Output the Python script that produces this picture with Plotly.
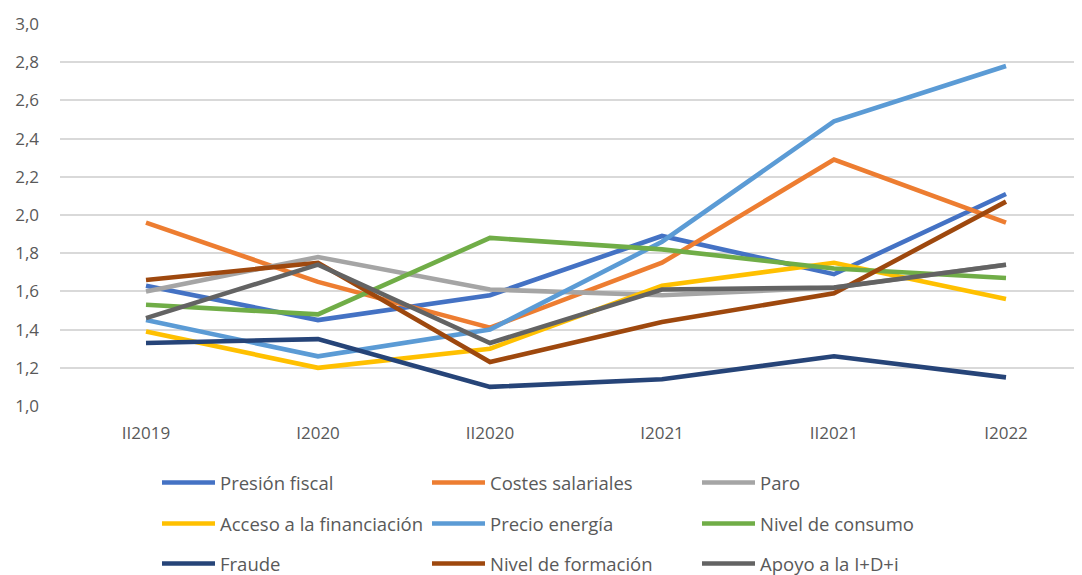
import plotly.graph_objects as go

categories = ["II2019", "I2020", "II2020", "I2021", "II2021", "I2022"]

presion_fiscal = [1.63, 1.45, 1.58, 1.89, 1.69, 2.11]
costes_salariales = [1.96, 1.65, 1.41, 1.75, 2.29, 1.96]
paro = [1.60, 1.78, 1.61, 1.58, 1.62, 1.74]
acceso_financiacion = [1.39, 1.20, 1.30, 1.63, 1.75, 1.56]
precio_energia = [1.45, 1.26, 1.40, 1.86, 2.49, 2.78]
nivel_consumo = [1.53, 1.48, 1.88, 1.82, 1.72, 1.67]
fraude = [1.33, 1.35, 1.10, 1.14, 1.26, 1.15]
nivel_formacion = [1.66, 1.75, 1.23, 1.44, 1.59, 2.07]
apoyo_idi = [1.46, 1.74, 1.33, 1.61, 1.62, 1.74]

series = [
    ("Presión fiscal", presion_fiscal, "#4472C4", "legend"),
    ("Costes salariales", costes_salariales, "#ED7D31", "legend"),
    ("Paro", paro, "#A5A5A5", "legend"),
    ("Acceso a la financiación", acceso_financiacion, "#FFC000", "legend2"),
    ("Precio energía", precio_energia, "#5B9BD5", "legend2"),
    ("Nivel de consumo", nivel_consumo, "#70AD47", "legend2"),
    ("Fraude", fraude, "#264478", "legend3"),
    ("Nivel de formación", nivel_formacion, "#9E480E", "legend3"),
    ("Apoyo a la I+D+i", apoyo_idi, "#636363", "legend3"),
]

FONT = "Open Sans"
TXT = "#595959"
TICK_FS = 17
LEG_FS = 18.5

# page has an 8px body margin: the figure is sized and placed to compensate
W, H = 1074, 567

fig = go.Figure()
for name, vals, color, lg in series:
    fig.add_trace(go.Scatter(
        x=list(range(len(categories))), y=vals, name=name, mode="lines",
        line=dict(color=color, width=4.6), legend=lg,
    ))

def leg(page_y):
    return dict(
        orientation="h", xref="container", yref="container",
        x=149 / W, xanchor="left", y=1 - (page_y - 8) / H, yanchor="middle",
        entrywidth=202, entrywidthmode="pixels",
        font=dict(family=FONT, size=LEG_FS, color=TXT),
        bgcolor="rgba(0,0,0,0)", itemwidth=53, traceorder="normal",
    )

fig.update_layout(
    width=W, height=H,
    margin=dict(l=52, r=0, t=16, b=169),
    plot_bgcolor="white", paper_bgcolor="white",
    separators=", ",
    font=dict(family=FONT, size=TICK_FS, color=TXT),
    showlegend=True,
    legend=leg(483),
    legend2=leg(524),
    legend3=leg(564),
    xaxis=dict(
        tickmode="array", tickvals=list(range(len(categories))), ticktext=categories,
        range=[-0.5, -0.5 + 1022 / 172], showgrid=False, zeroline=False,
        showline=False, ticks="", ticklabelstandoff=15,
        tickfont=dict(family=FONT, size=TICK_FS, color=TXT),
    ),
    yaxis=dict(
        range=[1.0, 3.0], dtick=0.2, tick0=1.0, tickformat=".1f",
        showgrid=True, gridcolor="#D9D9D9", gridwidth=1.5, zeroline=False,
        showline=False, ticks="", ticklabelstandoff=20,
        tickfont=dict(family=FONT, size=TICK_FS, color=TXT),
    ),
)

fig.write_html("out.html")
